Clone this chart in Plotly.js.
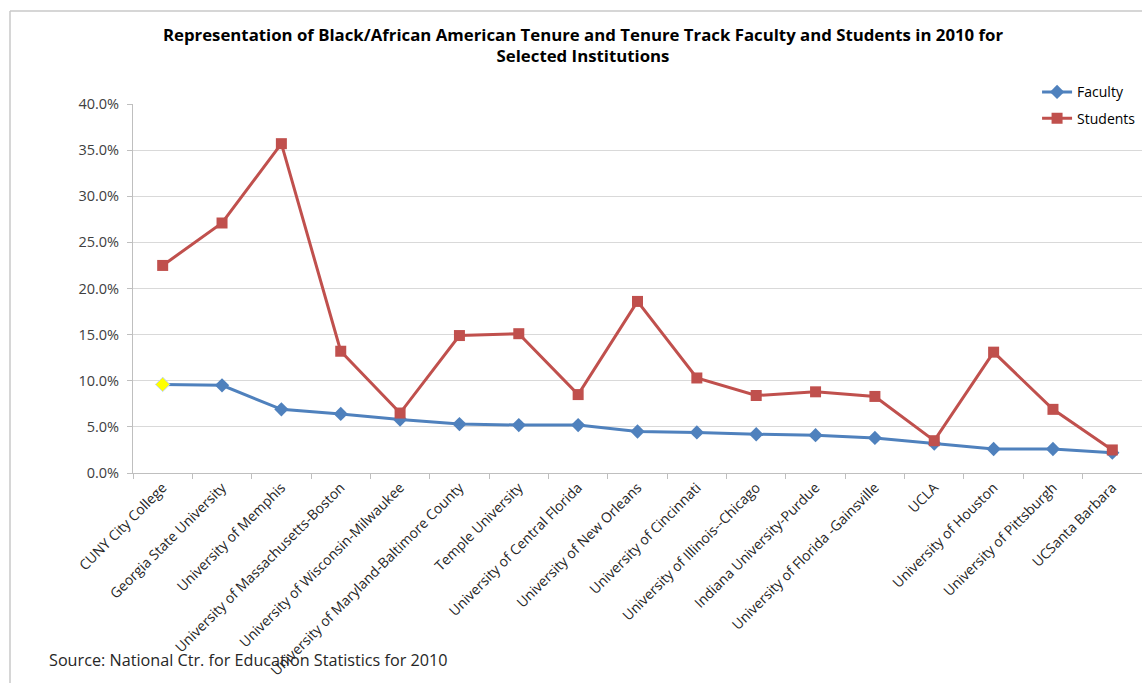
<!DOCTYPE html>
<html>
<head>
<meta charset="utf-8">
<script src="https://cdn.plot.ly/plotly-3.0.1.min.js"></script>
<style>html,body{margin:0;padding:0;background:#fff;}#chart{width:1142px;height:683px;}</style>
</head>
<body>
<div id="chart"></div>
<script>
const institutions = [
  "CUNY City College",
  "Georgia State University",
  "University of Memphis",
  "University of Massachusetts-Boston",
  "University of Wisconsin-Milwaukee",
  "University of Maryland-Baltimore County",
  "Temple University",
  "University of Central Florida",
  "University of New Orleans",
  "University of Cincinnati",
  "University of Illinois--Chicago",
  "Indiana University-Purdue",
  "University of Florida -Gainsville",
  "UCLA",
  "University of Houston",
  "University of Pittsburgh",
  "UCSanta Barbara"
];
const facultyPct = [9.6, 9.5, 6.9, 6.4, 5.8, 5.3, 5.2, 5.2, 4.5, 4.4, 4.2, 4.1, 3.8, 3.2, 2.6, 2.6, 2.2];
const studentsPct = [22.5, 27.1, 35.7, 13.2, 6.5, 14.9, 15.1, 8.5, 18.6, 10.3, 8.4, 8.8, 8.3, 3.5, 13.1, 6.9, 2.5];
const seriesNames = ["Faculty", "Students"];
const highlightedIndex = 0;
const titleText = "Representation of Black/African American Tenure and Tenure Track Faculty and Students in 2010 for<br>Selected Institutions";
const sourceText = "Source: National Ctr. for Education Statistics for 2010";

const FONT = "'Open Sans', Lato, sans-serif";
const W = 1142, H = 683, L = 133, T = 104, B = 210;
const PW = W - L, PH = H - T - B;

const traces = [
  {
    x: institutions, y: facultyPct, name: seriesNames[0], type: "scatter", mode: "lines+markers",
    legendgroup: "f",
    line: {color: "#4F81BD", width: 3},
    marker: {symbol: "diamond", size: 11, color: "#4F81BD"}
  },
  {
    x: [institutions[highlightedIndex]], y: [facultyPct[highlightedIndex]], type: "scatter", mode: "markers",
    showlegend: false, legendgroup: "f",
    marker: {symbol: "diamond", size: 11, color: "#FFFF00", line: {color: "#C9D9EE", width: 1}}
  },
  {
    x: institutions, y: studentsPct, name: seriesNames[1], type: "scatter", mode: "lines+markers",
    legendgroup: "s",
    line: {color: "#C0504D", width: 3},
    marker: {symbol: "square", size: 11, color: "#C0504D"}
  }
];

const layout = {
  width: W, height: H,
  margin: {l: L, r: 0, t: T, b: B},
  paper_bgcolor: "#fff", plot_bgcolor: "#fff",
  font: {family: FONT, color: "#404040", size: 13},
  title: {text: "<b>" + titleText + "</b>", font: {family: FONT, size: 16.8, color: "#000"},
          x: 0.5105, xanchor: "center", y: 0.9405, yanchor: "top"},
  showlegend: true,
  legend: {x: 0.896, xanchor: "left", y: 1.075, yanchor: "top", bgcolor: "#fff",
           traceorder: "grouped", tracegroupgap: 5,
           font: {family: FONT, size: 14, color: "#000"}, itemwidth: 30},
  xaxis: {
    type: "category", range: [-0.5, 16.5], tickangle: -45, automargin: false,
    showline: true, linecolor: "#BFBFBF", linewidth: 1,
    ticks: "outside", ticklen: 5, tickcolor: "#BFBFBF", tickson: "boundaries",
    showgrid: false, tickfont: {family: FONT, size: 14, color: "#262626"}
  },
  yaxis: {
    range: [0, 40], dtick: 5, tickformat: ".1f", ticksuffix: "%", automargin: false,
    showline: true, linecolor: "#BFBFBF", linewidth: 1,
    ticks: "outside", ticklen: 5, tickcolor: "#BFBFBF", ticklabelstandoff: 5,
    showgrid: true, gridcolor: "#D9D9D9", gridwidth: 1, zeroline: false,
    tickfont: {family: FONT, size: 14.5, color: "#404040"}
  },
  annotations: [
    {text: sourceText, xref: "paper", yref: "paper", x: (47 - L) / PW, y: (T + PH - 660) / PH,
     xanchor: "left", yanchor: "middle", showarrow: false, font: {family: FONT, size: 16.2, color: "#262626"}}
  ],
  shapes: [
    {type: "line", xref: "paper", yref: "paper", x0: (10 - L) / PW, x1: (10 - L) / PW,
     y0: (T + PH - H) / PH, y1: (T + PH - 11) / PH, line: {color: "#C8C8C8", width: 1.5}},
    {type: "line", xref: "paper", yref: "paper", x0: (10 - L) / PW, x1: 1,
     y0: (T + PH - 11) / PH, y1: (T + PH - 11) / PH, line: {color: "#C8C8C8", width: 1.5}}
  ]
};

Plotly.newPlot("chart", traces, layout, {displayModeBar: false, staticPlot: true});
</script>
</body>
</html>
